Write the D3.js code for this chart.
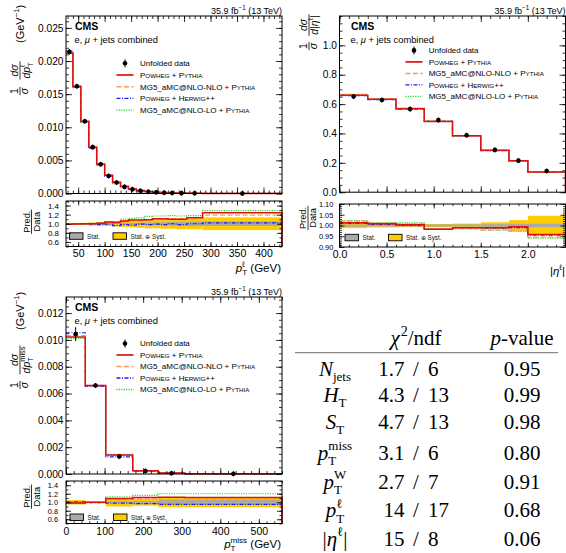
<!DOCTYPE html>
<html><head><meta charset="utf-8">
<script src="https://cdn.jsdelivr.net/npm/d3@7"></script>
<style>body{margin:0;background:#fff}svg{display:block}</style>
</head><body><svg id="c" width="566" height="553"></svg>
<script>
// ---------------- DATA ----------------
const lumiText = ["35.9 fb", "−1", " (13 TeV)"];
const channelText = "e, μ + jets combined";
const seriesKeys = ["data", "powhegPythia", "mgNlo", "powhegHerwig", "mgLo"];
const seriesLabels = {
  data: [["Unfolded data", 0]],
  powhegPythia: [["Powheg", 1], [" + ", 0], ["Pythia", 1]],
  mgNlo: [["MG5_aMC@NLO-NLO + ", 0], ["Pythia", 1]],
  powhegHerwig: [["Powheg", 1], [" + ", 0], ["Herwig", 1], ["++", 0]],
  mgLo: [["MG5_aMC@NLO-LO + ", 0], ["Pythia", 1]]
};
const bandLabels = ["Stat.", "Stat. ⊕ Syst."];

// lepton pT
const ptlEdges = [27, 40, 55, 70, 85, 100, 115, 130, 145, 160, 175, 190, 205, 220, 235, 255, 285, 435];
const ptlData = [0.0214, 0.0162, 0.0109, 0.0070, 0.0044, 0.00265, 0.00165, 0.00100, 0.00064, 0.00041, 0.00027, 0.00018, 0.00012, 0.00008, 0.000052, 0.00003, 0.000007];
const ptlPowhegPythia = [0.99, 0.995, 1.0, 1.0, 1.01, 1.04, 1.03, 1.06, 1.08, 1.08, 1.09, 1.11, 1.11, 1.10, 1.10, 1.13, 1.24];
const ptlMgNlo = [0.99, 0.99, 1.0, 1.0, 1.01, 1.03, 1.02, 1.05, 1.07, 1.07, 1.08, 1.10, 1.09, 1.11, 1.11, 1.13, 1.19];
const ptlPowhegHerwig = [1.005, 1.0, 0.99, 0.98, 0.98, 0.99, 0.96, 0.98, 0.97, 0.99, 0.98, 0.99, 0.98, 1.0, 0.98, 1.0, 1.02];
const ptlMgLo = [1.0, 0.99, 0.99, 1.0, 1.02, 1.04, 1.05, 1.10, 1.12, 1.13, 1.16, 1.17, 1.17, 1.18, 1.17, 1.18, 1.29];
const ptlStat = [0.005, 0.005, 0.005, 0.006, 0.008, 0.01, 0.012, 0.015, 0.018, 0.022, 0.026, 0.03, 0.034, 0.04, 0.045, 0.05, 0.05];
const ptlTotal = [0.02, 0.02, 0.02, 0.03, 0.04, 0.05, 0.06, 0.07, 0.08, 0.09, 0.10, 0.10, 0.11, 0.11, 0.12, 0.12, 0.14];

// lepton |eta|
const etaEdges = [0, 0.3, 0.6, 0.9, 1.2, 1.5, 1.8, 2.0, 2.4];
const etaData = [0.651, 0.628, 0.566, 0.491, 0.388, 0.288, 0.215, 0.144];
const etaPowhegPythia = [1.013, 1.008, 1.003, 0.982, 0.990, 0.990, 0.994, 0.958];
const etaMgNlo = [1.020, 1.012, 1.008, 0.985, 0.986, 0.980, 0.976, 0.946];
const etaPowhegHerwig = [1.010, 1.005, 1.000, 0.985, 0.990, 0.988, 0.990, 0.955];
const etaMgLo = [1.023, 1.013, 1.012, 0.987, 0.985, 0.978, 0.972, 0.941];
const etaStat = [0.005, 0.005, 0.005, 0.005, 0.005, 0.006, 0.007, 0.008];
const etaTotal = [0.012, 0.009, 0.008, 0.007, 0.009, 0.015, 0.025, 0.045];

// pT miss
const metEdges = [0, 50, 103, 173, 239, 308, 560];
const metData = [0.01043, 0.0066, 0.0013, 0.00022, 0.00006, 0.00001];
const metPowhegPythia = [0.98, 1.0, 1.09, 1.11, 1.12, 1.11];
const metMgNlo = [0.99, 1.0, 1.07, 1.08, 1.06, 1.06];
const metPowhegHerwig = [1.01, 0.99, 0.98, 0.97, 0.95, 0.95];
const metMgLo = [0.97, 1.0, 1.13, 1.16, 1.20, 1.20];
const metStat = [0.01, 0.008, 0.02, 0.03, 0.05, 0.06];
const metTotal = [0.05, 0.02, 0.10, 0.08, 0.12, 0.12];

// chi2 table
const tableVars = ["Njets", "HT", "ST", "ptmiss", "ptW", "ptl", "etal"];
const tableChi2 = ["1.7", "4.3", "4.7", "3.1", "2.7", "14", "15"];
const tableNdf = ["6", "13", "13", "6", "7", "17", "8"];
const tablePvalue = ["0.95", "0.99", "0.98", "0.80", "0.91", "0.68", "0.06"];

// ---------------- STYLE ----------------
const SANS = "'Liberation Sans', Arial, Helvetica, sans-serif";
const SERIF = "'Liberation Serif', 'Times New Roman', serif";
const YEL = "#ffcc00", GRAY = "#aaaaaa";
const styles = {
  powhegPythia: {c: "#dd1111", d: null, w: 1.5},
  mgNlo: {c: "#ff9a55", d: "5,2.5", w: 1.3},
  powhegHerwig: {c: "#1a1aff", d: "4,1.5,1,1.5", w: 1.2},
  mgLo: {c: "#30d030", d: "1.2,1.2", w: 1.2}
};
const drawOrder = ["powhegHerwig", "mgLo", "mgNlo", "powhegPythia"];

const svg = d3.select("#c");
const defs = svg.append("defs");
svg.append("rect").attr("width", 566).attr("height", 553).attr("fill", "#fff");

function rich(parent, pieces, o) {
  const grp = parent.append("g");
  const fs = o.fs, small = o.small || fs * 0.7;
  const subDy = o.subDy ?? fs * 0.3, supDy = o.supDy ?? -fs * 0.42;
  let cx = 0;
  const mk = (t, x, y, size, it, bold) => {
    const e = grp.append("text").attr("x", x).attr("y", y).attr("font-size", size)
      .attr("font-family", o.ff || SANS).attr("fill", "#000").style("white-space", "pre").text(t);
    if (it) e.attr("font-style", "italic");
    if (bold) e.attr("font-weight", "bold");
    return e.node().getComputedTextLength();
  };
  pieces.forEach(p => {
    if (typeof p === "string") p = {t: p};
    let w = 0;
    if (p.t) w = mk(p.t, cx, p.dy || 0, p.fs || fs, p.it, p.b);
    cx += w;
    let w2 = 0;
    if (p.sub) w2 = Math.max(w2, mk(p.sub, cx, subDy, small, false));
    if (p.sup) w2 = Math.max(w2, mk(p.sup, cx + (p.supDx || 0), supDy, small, p.supIt) + (p.supDx || 0));
    cx += w2 + (p.gap || 0);
  });
  let sx = o.x || 0;
  if (o.anchor === "middle") sx -= cx / 2; else if (o.anchor === "end") sx -= cx;
  grp.attr("transform", `translate(${sx},${o.y || 0})`);
  return cx;
}

function fracAt(parent, uc, num, den, o) {
  const gn = parent.append("g"), gd = parent.append("g");
  const wn = rich(gn, num, {fs: o.fs}), wd = rich(gd, den, {fs: o.fs, small: o.small});
  const W = Math.max(wn, wd) + 2;
  gn.attr("transform", `translate(${uc - wn / 2},${o.numV})`);
  gd.attr("transform", `translate(${uc - wd / 2},${o.denV})`);
  parent.append("line").attr("x1", uc - W / 2).attr("x2", uc + W / 2).attr("y1", 0).attr("y2", 0)
    .attr("stroke", "#000").attr("stroke-width", 0.8);
}

function scPieces(spec, fs) {
  const out = [];
  spec.forEach(([t, sc]) => {
    if (!sc) out.push({t: t, fs: fs});
    else { out.push({t: t[0], fs: fs}); out.push({t: t.slice(1).toUpperCase(), fs: fs * 0.78}); }
  });
  return out;
}

function stepPath(edges, vals, xs, ys, base) {
  const pts = vals.map((v, i) => [edges[i], v]);
  pts.push([edges[edges.length - 1], vals[vals.length - 1]]);
  pts.push([edges[edges.length - 1], base]);
  return d3.line().x(d => xs(d[0])).y(d => ys(d[1])).curve(d3.curveStepAfter)(pts);
}

function axes(g, x, y, o) {
  const [x0, x1] = x.range(); const [yb, yt] = y.range();
  const none = () => "";
  const add = (axis, tx, ty, fs) => g.append("g").attr("transform", `translate(${tx},${ty})`).call(axis)
    .call(s => s.select(".domain").remove()).call(s => s.selectAll("line").attr("stroke-width", 0.8))
    .attr("font-size", fs || 10).attr("font-family", SANS);
  add(d3.axisBottom(x).tickValues(o.xMin).tickSize(-o.Lx / 2).tickFormat(none), 0, yb);
  add(d3.axisBottom(x).tickValues(o.xMaj).tickSize(-o.Lx).tickPadding(o.xPad || 3).tickFormat(o.xFmt || none), 0, yb, o.xFs);
  add(d3.axisTop(x).tickValues(o.xMin).tickSize(-o.Lx / 2).tickFormat(none), 0, yt);
  add(d3.axisTop(x).tickValues(o.xMaj).tickSize(-o.Lx).tickFormat(none), 0, yt);
  add(d3.axisLeft(y).tickValues(o.yMin).tickSize(-o.Ly / 2).tickFormat(none), x0, 0);
  add(d3.axisLeft(y).tickValues(o.yMaj).tickSize(-o.Ly).tickPadding(o.yPad).tickFormat(o.yFmt), x0, 0, o.yFs);
  add(d3.axisRight(y).tickValues(o.yMin).tickSize(-o.Ly / 2).tickFormat(none), x1, 0);
  add(d3.axisRight(y).tickValues(o.yMaj).tickSize(-o.Ly).tickFormat(none), x1, 0);
  g.append("rect").attr("x", x0).attr("y", yt).attr("width", x1 - x0).attr("height", yb - yt)
    .attr("fill", "none").attr("stroke", "#000").attr("stroke-width", 1);
}

const rng = (a, b, s) => d3.range(Math.round((b - a) / s) + 1).map(i => +(a + i * s).toFixed(6));

function drawPanel(P) {
  const g = svg.append("g");
  const x = d3.scaleLinear().domain(P.xDom).range([P.x0, P.x1]);
  const y = d3.scaleLinear().domain(P.yDom).range([P.yb, P.yt]);
  const r = d3.scaleLinear().domain(P.rDom).range([P.rb, P.rt]);
  const idR = P.id + "r";
  defs.append("clipPath").attr("id", idR).append("rect").attr("x", P.x0).attr("y", P.rt)
    .attr("width", P.x1 - P.x0 + 1).attr("height", P.rb - P.rt);
  const idx = P.data.map((d, i) => i);
  // ratio bands
  const gr = g.append("g").attr("clip-path", `url(#${idR})`);
  gr.selectAll("rect.tot").data(idx).join("rect").attr("class", "tot")
    .attr("x", i => x(P.edges[i])).attr("width", i => x(P.edges[i + 1]) - x(P.edges[i]))
    .attr("y", i => r(1 + P.total[i])).attr("height", i => r(1 - P.total[i]) - r(1 + P.total[i])).attr("fill", YEL);
  gr.selectAll("rect.st").data(idx).join("rect").attr("class", "st")
    .attr("x", i => x(P.edges[i])).attr("width", i => x(P.edges[i + 1]) - x(P.edges[i]))
    .attr("y", i => r(1 + P.stat[i])).attr("height", i => r(1 - P.stat[i]) - r(1 + P.stat[i])).attr("fill", GRAY);
  drawOrder.forEach(k => {
    const s = styles[k];
    gr.append("path").attr("d", stepPath(P.edges, P.pred[k], x, r, P.rDom[0])).attr("fill", "none")
      .attr("stroke", s.c).attr("stroke-width", s.w).attr("stroke-dasharray", s.d);
  });
  // ratio legend
  const lg = g.append("g");
  [[P.lbox[0], GRAY, bandLabels[0]], [P.lbox[1], YEL, bandLabels[1]]].forEach(([bx, col, lab]) => {
    lg.append("rect").attr("x", bx).attr("y", P.lboxY).attr("width", 13.5).attr("height", 6.5)
      .attr("fill", col).attr("stroke", "#000").attr("stroke-width", 0.9);
    lg.append("text").attr("x", bx + 17.5).attr("y", P.lboxY + 6).attr("font-size", 6.3)
      .attr("font-family", SANS).attr("fill", "#111").text(lab);
  });
  // main histograms
  drawOrder.forEach(k => {
    const s = styles[k];
    g.append("path").attr("d", stepPath(P.edges, P.pred[k].map((v, i) => v * P.data[i]), x, y, P.yDom[0]))
      .attr("fill", "none").attr("stroke", s.c).attr("stroke-width", s.w).attr("stroke-dasharray", s.d);
  });
  // data points
  const cxs = i => x((P.edges[i] + P.edges[i + 1]) / 2);
  const half = i => Math.max(2.5, y(P.data[i] * (1 - P.total[i])) - y(P.data[i]));
  g.selectAll("line.err").data(idx).join("line").attr("class", "err")
    .attr("x1", cxs).attr("x2", cxs).attr("y1", i => y(P.data[i]) - half(i)).attr("y2", i => y(P.data[i]) + half(i))
    .attr("stroke", "#000").attr("stroke-width", 1);
  g.selectAll("circle.pt").data(idx).join("circle").attr("class", "pt")
    .attr("cx", cxs).attr("cy", i => y(P.data[i])).attr("r", 2.3).attr("fill", "#000");
  // axes
  axes(g, x, y, {xMaj: P.xMaj, xMin: P.xMin, yMaj: P.yMaj, yMin: P.yMin, Lx: 6, Ly: 6,
    yFmt: P.yFmt, yFs: 10.2, yPad: 2.5});
  axes(g, x, r, {xMaj: P.xMaj, xMin: P.xMin, yMaj: P.rMaj, yMin: P.rMin, Lx: 4.5, Ly: 5,
    xFmt: P.xFmt, xFs: 10.5, xPad: P.xPad, yFmt: P.rFmt, yFs: P.rFs, yPad: P.rPad});
  // top texts
  rich(svg, [{t: lumiText[0], sup: lumiText[1]}, lumiText[2]], {fs: 9, anchor: "end", x: P.x1, y: P.yt - 2.5, supDy: -3.8});
  svg.append("text").attr("x", P.cmsX).attr("y", P.yt + 14).attr("font-size", 10.5).attr("font-weight", "bold")
    .attr("font-family", SANS).text("CMS");
  const ch = channelText.split("μ");
  rich(svg, [ch[0], {t: "μ", it: 1}, ch[1]], {fs: 9.3, x: P.cmsX - 0.5, y: P.yt + 26.8});
  // legend
  seriesKeys.forEach((k, j) => {
    const cy = P.legY + j * P.legDy;
    if (k === "data") {
      g.append("line").attr("x1", P.legX).attr("x2", P.legX).attr("y1", cy - 4).attr("y2", cy + 4).attr("stroke", "#000");
      g.append("circle").attr("cx", P.legX).attr("cy", cy).attr("r", 2.3).attr("fill", "#000");
    } else {
      const s = styles[k];
      g.append("line").attr("x1", P.legX - 8.5).attr("x2", P.legX + 8.5).attr("y1", cy).attr("y2", cy)
        .attr("stroke", s.c).attr("stroke-width", s.w + 0.2).attr("stroke-dasharray", s.d);
    }
    rich(g, scPieces(seriesLabels[k], 8), {fs: 8, x: P.legTx, y: cy + 2.9});
  });
}

const pred = (pp, nlo, hw, lo) => ({powhegPythia: pp, mgNlo: nlo, powhegHerwig: hw, mgLo: lo});

drawPanel({
  id: "tl", x0: 66, x1: 282, yt: 16, yb: 193.5, rt: 201, rb: 246.5,
  xDom: [27, 435], yDom: [0, 0.0268], rDom: [0.5, 1.5],
  edges: ptlEdges, data: ptlData, stat: ptlStat, total: ptlTotal,
  pred: pred(ptlPowhegPythia, ptlMgNlo, ptlPowhegHerwig, ptlMgLo),
  xMaj: rng(50, 400, 50), xMin: rng(30, 430, 10), yMaj: rng(0, 0.025, 0.005), yMin: rng(0, 0.026, 0.001),
  rMaj: rng(0.6, 1.4, 0.2), rMin: rng(0.5, 1.5, 0.1),
  xFmt: d3.format("d"), yFmt: d3.format(".3f"), rFmt: d3.format(".1f"), xPad: 3, rFs: 8, rPad: 7,
  lbox: [69.5, 113], lboxY: 232.8, cmsX: 75, legX: 125, legTx: 140, legY: 63.3, legDy: 11.7
});
drawPanel({
  id: "tr", x0: 339.5, x1: 565.5, yt: 16, yb: 192.2, rt: 204, rb: 247,
  xDom: [0, 2.4], yDom: [0, 1.2], rDom: [0.9, 1.1],
  edges: etaEdges, data: etaData, stat: etaStat, total: etaTotal,
  pred: pred(etaPowhegPythia, etaMgNlo, etaPowhegHerwig, etaMgLo),
  xMaj: rng(0, 2.0, 0.5), xMin: rng(0, 2.4, 0.1), yMaj: rng(0, 1.0, 0.2), yMin: rng(0, 1.2, 0.05),
  rMaj: rng(0.9, 1.1, 0.05), rMin: rng(0.9, 1.1, 0.01),
  xFmt: d3.format(".1f"), yFmt: d3.format(".1f"), rFmt: d3.format(".2f"), xPad: 4, rFs: 7.4, rPad: 6.2,
  lbox: [345, 388.5], lboxY: 234.3, cmsX: 351, legX: 414, legTx: 428.7, legY: 50.4, legDy: 11.5
});
drawPanel({
  id: "bl", x0: 66, x1: 282, yt: 297, yb: 474, rt: 481, rb: 523.5,
  xDom: [0, 560], yDom: [0, 0.0132], rDom: [0.5, 1.5],
  edges: metEdges, data: metData, stat: metStat, total: metTotal,
  pred: pred(metPowhegPythia, metMgNlo, metPowhegHerwig, metMgLo),
  xMaj: rng(0, 500, 100), xMin: rng(0, 560, 20), yMaj: rng(0, 0.012, 0.002), yMin: rng(0, 0.013, 0.0005),
  rMaj: rng(0.6, 1.4, 0.2), rMin: rng(0.5, 1.5, 0.1),
  xFmt: d3.format("d"), yFmt: d3.format(".3f"), rFmt: d3.format(".1f"), xPad: 4, rFs: 7.4, rPad: 8,
  lbox: [70, 113.5], lboxY: 514, cmsX: 75, legX: 125, legTx: 140, legY: 343.5, legDy: 11.5
});

// ---------- axis titles ----------
// TL y title
let t = svg.append("g").attr("transform", "translate(20,97) rotate(-90)");
fracAt(t, 6, ["1"], [{t: "σ", it: 1}], {fs: 10.5, numV: -2.5, denV: 7.5});
fracAt(t, 26.5, [{t: "dσ", it: 1}], [{t: "dp", it: 1, sub: "T", sup: "ℓ"}], {fs: 10.5, numV: -2.5, denV: 9.5});
rich(t, [{t: "(GeV", sup: "−1"}, ")"], {fs: 11, x: 54, y: 3.5, supDy: -4.6});
// TR y title
t = svg.append("g").attr("transform", "translate(309,55) rotate(-90)");
fracAt(t, 9, ["1"], [{t: "σ", it: 1}], {fs: 10.5, numV: -2.5, denV: 7.5});
fracAt(t, 30, [{t: "dσ", it: 1}], [{t: "d", it: 1}, "|", {t: "η", it: 1, sup: "ℓ"}, "|"], {fs: 10.5, numV: -2.5, denV: 8.5});
// BL y title
t = svg.append("g").attr("transform", "translate(20,392) rotate(-90)");
fracAt(t, 7, ["1"], [{t: "σ", it: 1}], {fs: 10.5, numV: -2.5, denV: 7.5});
fracAt(t, 32, [{t: "dσ", it: 1}], [{t: "dp", it: 1, sub: "T", sup: "miss"}], {fs: 10.5, numV: -2.5, denV: 9.5});
rich(t, [{t: "(GeV", sup: "−1"}, ")"], {fs: 11, x: 62, y: 3.5, supDy: -4.6});
// ratio titles
[[31.5, 221.7], [308, 218], [31.5, 496.7]].forEach(([X, Y]) => {
  const rg = svg.append("g").attr("transform", `translate(${X},${Y}) rotate(-90)`);
  fracAt(rg, 0, ["Pred."], ["Data"], {fs: 9.3, numV: -1.8, denV: 8});
});
// x titles
rich(svg, [{t: "p", it: 1, sub: "T", sup: "ℓ"}, " (GeV)"], {fs: 11.5, anchor: "end", x: 281, y: 271.5});
rich(svg, ["|", {t: "η", it: 1, sup: "ℓ"}, "|"], {fs: 11.5, anchor: "end", x: 565, y: 274.5});
rich(svg, [{t: "p", it: 1, sub: "T", sup: "miss"}, " (GeV)"], {fs: 11.5, anchor: "end", x: 281, y: 547.5});

// ---------- table ----------
const tbl = svg.append("g");
const TF = 21;
const varPieces = {
  Njets: [{t: "N", it: 1, sub: "jets"}],
  HT: [{t: "H", it: 1, sub: "T"}],
  ST: [{t: "S", it: 1, sub: "T"}],
  ptmiss: [{t: "p", it: 1, sub: "T", sup: "miss"}],
  ptW: [{t: "p", it: 1, sub: "T", sup: "W"}],
  ptl: [{t: "p", it: 1, sub: "T", sup: "ℓ"}],
  etal: ["|", {t: "η", it: 1, sup: "ℓ"}, "|"]
};
rich(tbl, [{t: "χ", it: 1, sup: "2", supDx: 1}, "/ndf"], {fs: TF, ff: SERIF, anchor: "middle", x: 416, y: 345, small: 14, supDy: -9});
rich(tbl, [{t: "p", it: 1}, "-value"], {fs: TF, ff: SERIF, anchor: "middle", x: 522, y: 345});
tbl.append("line").attr("x1", 295).attr("x2", 558).attr("y1", 352.7).attr("y2", 352.7)
  .attr("stroke", "#888").attr("stroke-width", 1.2);
const rowY = [376, 402, 428.5, 460, 488.7, 517.3, 546];
tableVars.forEach((v, i) => {
  rich(tbl, varPieces[v], {fs: TF, ff: SERIF, anchor: "middle", x: 335, y: rowY[i], small: 13, subDy: 5.3, supDy: -9.6});
  const mk = (txt, xx, anchor) => tbl.append("text").attr("x", xx).attr("y", rowY[i]).attr("text-anchor", anchor)
    .attr("font-size", TF).attr("font-family", SERIF).text(txt);
  mk(tableChi2[i], 404.5, "end");
  mk("/", 416, "middle");
  mk(tableNdf[i], 428, "start");
  mk(tablePvalue[i], 522, "middle");
});
</script></body></html>
